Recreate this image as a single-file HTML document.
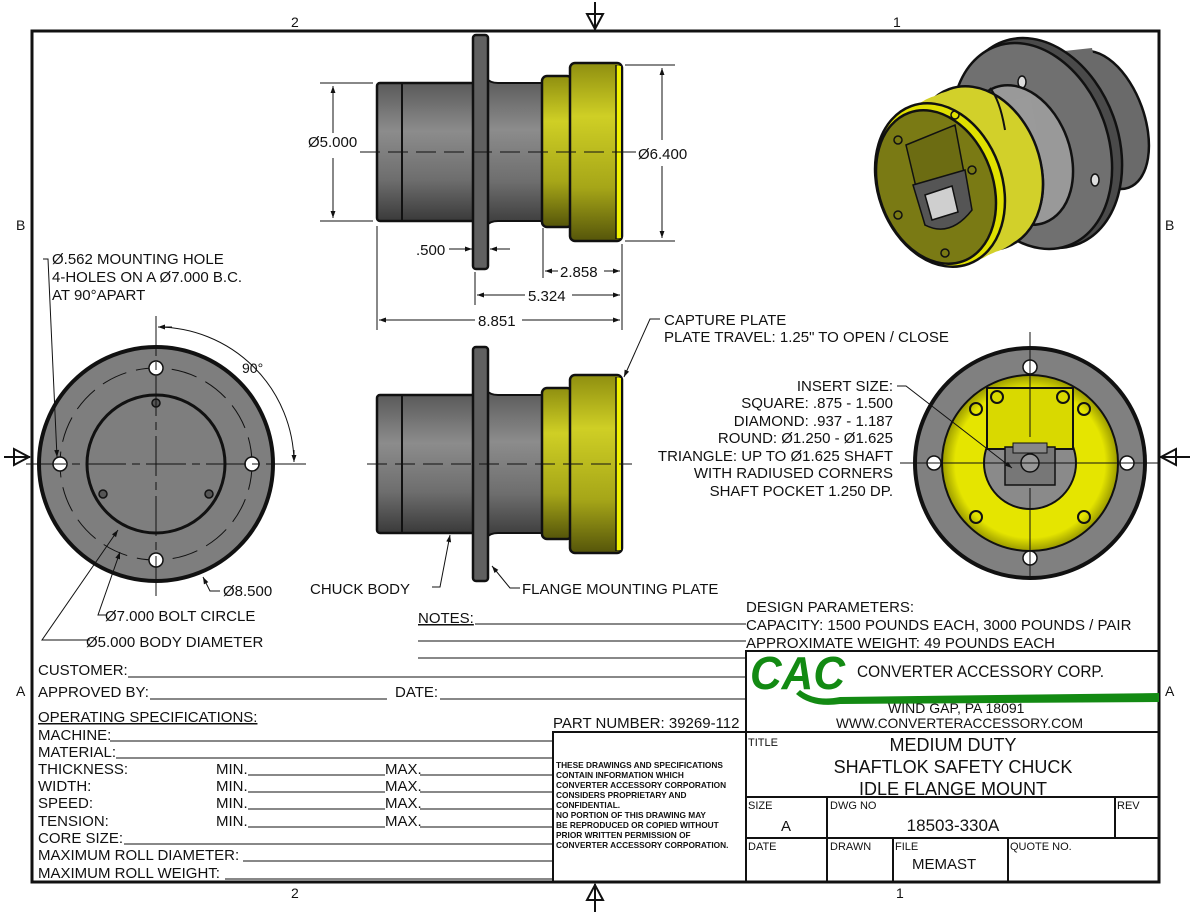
<!DOCTYPE html>
<html><head><meta charset="utf-8"><style>
html,body{margin:0;padding:0;background:#fff;}
svg{display:block;}
text{font-family:"Liberation Sans",Arial,sans-serif;fill:#111;}
</style></head><body>
<svg width="1200" height="924" viewBox="0 0 1200 924" xmlns="http://www.w3.org/2000/svg">
<defs>
<linearGradient id="gb" x1="0" y1="0" x2="0" y2="1">
<stop offset="0" stop-color="#5a5a5a"/><stop offset="0.35" stop-color="#8c8c8c"/><stop offset="0.7" stop-color="#6e6e6e"/><stop offset="1" stop-color="#3a3a3a"/></linearGradient>
<linearGradient id="gy" x1="0" y1="0" x2="0" y2="1">
<stop offset="0" stop-color="#8f8f10"/><stop offset="0.3" stop-color="#cfcf25"/><stop offset="0.7" stop-color="#a6a618"/><stop offset="1" stop-color="#55550a"/></linearGradient>
<radialGradient id="ry" cx="0.5" cy="0.5" r="0.5"><stop offset="0.85" stop-color="#e5e500"/><stop offset="1" stop-color="#9a9a00"/></radialGradient>
<g id="side">
<rect x="377" y="83" width="100" height="138" rx="3" fill="url(#gb)" stroke="#111" stroke-width="2.5"/>
<line x1="402" y1="83" x2="402" y2="221" stroke="#111" stroke-width="2"/>
<path d="M486 78 Q490 83 498 83 L543 83 L543 221 L498 221 Q490 221 486 226 Z" fill="url(#gb)" stroke="#111" stroke-width="2"/>
<rect x="473" y="35" width="15" height="234" rx="3" fill="#606060" stroke="#111" stroke-width="2.5"/>
<rect x="542" y="76" width="30" height="151" rx="5" fill="url(#gy)" stroke="#111" stroke-width="2.5"/>
<rect x="570" y="63" width="52" height="178" rx="5" fill="url(#gy)" stroke="#111" stroke-width="2.5"/>
<rect x="616" y="66" width="5" height="172" fill="#f0f000"/>
<line x1="616" y1="65" x2="616" y2="239" stroke="#111" stroke-width="1.5"/>
</g>
<marker id="ar" viewBox="0 0 10 10" refX="10" refY="5" markerWidth="10" markerHeight="7" orient="auto-start-reverse" markerUnits="userSpaceOnUse"><path d="M0 1.5 L10 5 L0 8.5 Z" fill="#111"/></marker>
</defs>

<!-- border -->
<rect x="32" y="31" width="1127" height="851" fill="none" stroke="#111" stroke-width="3"/>
<text x="291" y="27" font-size="14">2</text>
<text x="893" y="27" font-size="14">1</text>
<text x="291" y="898" font-size="14">2</text>
<text x="896" y="898" font-size="14">1</text>
<text x="16" y="230" font-size="14">B</text>
<text x="1165" y="230" font-size="14">B</text>
<text x="16" y="696" font-size="14">A</text>
<text x="1165" y="696" font-size="14">A</text>
<g stroke="#111" stroke-width="2" fill="none">
<line x1="595" y1="2" x2="595" y2="30"/><path d="M587 14 L603 14 L595 29 Z"/>
<line x1="595" y1="884" x2="595" y2="912"/><path d="M587 900 L603 900 L595 885 Z"/>
<line x1="4" y1="457" x2="30" y2="457"/><path d="M14 449 L14 465 L29 457 Z"/>
<line x1="1160" y1="457" x2="1190" y2="457"/><path d="M1176 449 L1176 465 L1161 457 Z"/>
</g>

<!-- top side view -->
<use href="#side"/>
<line x1="360" y1="152" x2="660" y2="152" stroke="#111" stroke-width="1" stroke-dasharray="20,8"/>
<g stroke="#111" stroke-width="1" fill="none">
<line x1="320" y1="83" x2="373" y2="83"/><line x1="320" y1="221" x2="373" y2="221"/>
<line x1="333" y1="86" x2="333" y2="133" marker-start="url(#ar)"/><line x1="333" y1="158" x2="333" y2="218" marker-end="url(#ar)"/>
<line x1="625" y1="65" x2="675" y2="65"/><line x1="625" y1="241" x2="675" y2="241"/>
<line x1="662" y1="68" x2="662" y2="140" marker-start="url(#ar)"/><line x1="662" y1="166" x2="662" y2="238" marker-end="url(#ar)"/>
<line x1="449" y1="249" x2="472" y2="249" marker-end="url(#ar)"/><line x1="510" y1="249" x2="490" y2="249" marker-end="url(#ar)"/>
<line x1="543" y1="228" x2="543" y2="278"/><line x1="622" y1="244" x2="622" y2="330"/>
<line x1="475" y1="272" x2="475" y2="305"/><line x1="377" y1="226" x2="377" y2="330"/>
<line x1="545" y1="271" x2="558" y2="271" marker-start="url(#ar)"/><line x1="604" y1="271" x2="620" y2="271" marker-end="url(#ar)"/>
<line x1="477" y1="295" x2="525" y2="295" marker-start="url(#ar)"/><line x1="572" y1="295" x2="620" y2="295" marker-end="url(#ar)"/>
<line x1="379" y1="320" x2="475" y2="320" marker-start="url(#ar)"/><line x1="522" y1="320" x2="620" y2="320" marker-end="url(#ar)"/>
</g>
<rect x="300" y="133" width="58" height="18" fill="#fff"/>
<text x="308" y="147" font-size="15">Ø5.000</text>
<rect x="636" y="144" width="54" height="18" fill="#fff"/>
<line x1="622" y1="152" x2="636" y2="152" stroke="#111" stroke-width="1"/>
<text x="638" y="159" font-size="15">Ø6.400</text>
<text x="416" y="255" font-size="15">.500</text>
<text x="560" y="277" font-size="15">2.858</text>
<text x="528" y="301" font-size="15">5.324</text>
<text x="478" y="326" font-size="15">8.851</text>

<!-- bottom side view -->
<use href="#side" transform="translate(0,312)"/>
<line x1="367" y1="464" x2="632" y2="464" stroke="#111" stroke-width="1" stroke-dasharray="20,8"/>
<g stroke="#111" stroke-width="1" fill="none">
<path d="M432 587 L440 587 L450 535" marker-end="url(#ar)"/>
<path d="M520 588 L510 588 L492 566" marker-end="url(#ar)"/>
<path d="M660 319 L650 319 L624 377" marker-end="url(#ar)"/>
</g>
<text x="310" y="594" font-size="15">CHUCK BODY</text>
<text x="522" y="594" font-size="15">FLANGE MOUNTING PLATE</text>
<text x="664" y="325" font-size="15">CAPTURE PLATE</text>
<text x="664" y="342" font-size="15">PLATE TRAVEL: 1.25" TO OPEN / CLOSE</text>

<!-- left front view -->
<circle cx="156" cy="464" r="117" fill="#7e7e7e" stroke="#111" stroke-width="4"/>
<circle cx="156" cy="464" r="96" fill="none" stroke="#111" stroke-width="1" stroke-dasharray="26,10"/>
<circle cx="156" cy="464" r="69" fill="#7e7e7e" stroke="#111" stroke-width="3"/>
<g fill="#fff" stroke="#111" stroke-width="1.5">
<circle cx="156" cy="368" r="7"/><circle cx="60" cy="464" r="7"/><circle cx="252" cy="464" r="7"/><circle cx="156" cy="560" r="7"/></g>
<g fill="#555" stroke="#111" stroke-width="1.5">
<circle cx="156" cy="403" r="4"/><circle cx="103" cy="494" r="4"/><circle cx="209" cy="494" r="4"/></g>
<g stroke="#111" stroke-width="1" fill="none">
<line x1="156" y1="316" x2="156" y2="596" stroke-dasharray="40,6,8,6"/>
<line x1="26" y1="464" x2="310" y2="464" stroke-dasharray="40,6,8,6"/>
<path d="M158 327 A137 137 0 0 1 294 462" />
<line x1="158" y1="327" x2="172" y2="327" marker-start="url(#ar)"/>
<line x1="294" y1="450" x2="294" y2="462" marker-end="url(#ar)"/>
<path d="M43 259 L48 259 L57 457" marker-end="url(#ar)"/>
<path d="M220 591 L210 591 L203 577" marker-end="url(#ar)"/>
<path d="M106 615 L98 615 L120 552" marker-end="url(#ar)"/>
<path d="M90 640 L42 640 L118 530" marker-end="url(#ar)"/>
</g>
<text x="52" y="264" font-size="15">Ø.562 MOUNTING HOLE</text>
<text x="52" y="282" font-size="15">4-HOLES ON A Ø7.000 B.C.</text>
<text x="52" y="300" font-size="15">AT 90°APART</text>
<text x="242" y="373" font-size="14">90°</text>
<text x="223" y="596" font-size="15">Ø8.500</text>
<text x="105" y="621" font-size="15">Ø7.000 BOLT CIRCLE</text>
<text x="86" y="647" font-size="15">Ø5.000 BODY DIAMETER</text>

<!-- right front view -->
<circle cx="1030" cy="463" r="115" fill="#808080" stroke="#111" stroke-width="4"/>
<circle cx="1030" cy="463" r="88" fill="url(#ry)" stroke="#111" stroke-width="2"/>
<circle cx="1030" cy="463" r="46" fill="#8a8a8a" stroke="#111" stroke-width="2"/>
<path d="M987 388 L1073 388 L1073 449 L987 449 Z" fill="#d9d900" stroke="#111" stroke-width="2"/>
<rect x="1005" y="447" width="50" height="38" fill="#777" stroke="#111" stroke-width="1.5"/>
<rect x="1013" y="443" width="34" height="10" fill="#888" stroke="#111" stroke-width="1"/>
<circle cx="1030" cy="463" r="9" fill="#999" stroke="#111" stroke-width="1.5"/>
<g fill="#fff" stroke="#111" stroke-width="1.5">
<circle cx="1030" cy="367" r="7"/><circle cx="934" cy="463" r="7"/><circle cx="1127" cy="463" r="7"/><circle cx="1030" cy="558" r="7"/></g>
<g fill="none" stroke="#111" stroke-width="2">
<circle cx="997" cy="397" r="6"/><circle cx="1063" cy="397" r="6"/>
<circle cx="976" cy="409" r="6"/><circle cx="1084" cy="409" r="6"/>
<circle cx="976" cy="517" r="6"/><circle cx="1084" cy="517" r="6"/></g>
<g stroke="#111" stroke-width="1" fill="none">
<line x1="1030" y1="332" x2="1030" y2="437"/><line x1="1030" y1="488" x2="1030" y2="580"/>
<line x1="900" y1="463" x2="1158" y2="463"/>
<path d="M897 386 L906 386 L1012 468" marker-end="url(#ar)"/>
</g>
<g font-size="15" text-anchor="end">
<text x="893" y="391">INSERT SIZE:</text>
<text x="893" y="408">SQUARE: .875 - 1.500</text>
<text x="893" y="426">DIAMOND: .937 - 1.187</text>
<text x="893" y="443">ROUND: Ø1.250 - Ø1.625</text>
<text x="893" y="461">TRIANGLE: UP TO Ø1.625 SHAFT</text>
<text x="893" y="478">WITH RADIUSED CORNERS</text>
<text x="893" y="496">SHAFT POCKET 1.250 DP.</text>
</g>

<!-- 3D view -->
<g stroke="#111" stroke-width="2.5">
<ellipse cx="1104" cy="120" rx="40" ry="72" transform="rotate(-20 1104 120)" fill="#6a6a6a"/>
<path d="M1055 52 L1092 48 L1118 188 L1080 198 Z" fill="#6a6a6a" stroke="none"/>
<ellipse cx="1070" cy="130" rx="40" ry="72" transform="rotate(-20 1070 130)" fill="#6a6a6a"/>
<ellipse cx="1040" cy="143" rx="78" ry="108" transform="rotate(-20 1040 143)" fill="#4a4a4a"/>
<ellipse cx="1032" cy="146" rx="76" ry="106" transform="rotate(-20 1032 146)" fill="#707070"/>
<ellipse cx="1022" cy="82" rx="4" ry="6" fill="#ddd" stroke-width="1.5"/>
<ellipse cx="1095" cy="180" rx="4" ry="6" fill="#ddd" stroke-width="1.5"/>
<ellipse cx="1020" cy="155" rx="50" ry="72" transform="rotate(-20 1020 155)" fill="#999"/>
<path d="M985 110 L1030 95 L1050 200 L1000 220 Z" fill="#9a9a9a" stroke="none"/>
<ellipse cx="990" cy="168" rx="50" ry="72" transform="rotate(-20 990 168)" fill="#9a9a9a"/>
<ellipse cx="978" cy="168" rx="62" ry="84" transform="rotate(-20 978 168)" fill="#d2d02a"/>
<ellipse cx="970" cy="172" rx="62" ry="84" transform="rotate(-20 970 172)" fill="#d2d02a" stroke="none"/>
<ellipse cx="960" cy="176" rx="62" ry="84" transform="rotate(-20 960 176)" fill="#d2d02a" stroke="none"/>
<ellipse cx="950" cy="181" rx="62" ry="84" transform="rotate(-20 950 181)" fill="#d2d02a" stroke="none"/>
<path d="M990 88 Q1000 100 1005 130" fill="none" stroke-width="2"/>
<ellipse cx="940" cy="185" rx="62" ry="84" transform="rotate(-20 940 185)" fill="#e0e000"/>
<ellipse cx="936" cy="187" rx="57" ry="79" transform="rotate(-20 936 187)" fill="#7a7a14"/>
<path d="M906 145 L955 125 L970 205 Q950 235 925 225 Z" fill="#6c6c12" stroke-width="1.5"/>
<path d="M913 185 L965 170 L972 210 Q950 238 925 225 Z" fill="#555" stroke-width="1.5"/>
<path d="M925 195 L952 186 L958 212 L932 220 Z" fill="#cfcfcf" stroke-width="1.5"/>
<g fill="none" stroke-width="1.5"><circle cx="898" cy="140" r="4"/><circle cx="955" cy="115" r="4"/><circle cx="972" cy="170" r="4"/><circle cx="898" cy="215" r="4"/><circle cx="945" cy="253" r="4"/></g>
</g>

<!-- notes -->
<text x="418" y="623" font-size="15" text-decoration="underline">NOTES:</text>
<g stroke="#111" stroke-width="1">
<line x1="475" y1="624" x2="746" y2="624"/>
<line x1="418" y1="641" x2="746" y2="641"/>
<line x1="418" y1="658" x2="746" y2="658"/>
</g>
<text x="746" y="612" font-size="15">DESIGN PARAMETERS:</text>
<text x="746" y="630" font-size="15">CAPACITY: 1500 POUNDS EACH, 3000 POUNDS / PAIR</text>
<text x="746" y="648" font-size="15">APPROXIMATE WEIGHT: 49 POUNDS EACH</text>

<!-- form -->
<g font-size="15">
<text x="38" y="675">CUSTOMER:</text>
<text x="38" y="697">APPROVED BY:</text>
<text x="395" y="697">DATE:</text>
<text x="38" y="722" text-decoration="underline">OPERATING SPECIFICATIONS:</text>
<text x="38" y="740">MACHINE:</text>
<text x="38" y="757">MATERIAL:</text>
<text x="38" y="774">THICKNESS:</text><text x="216" y="774">MIN.</text><text x="385" y="774">MAX.</text>
<text x="38" y="791">WIDTH:</text><text x="216" y="791">MIN.</text><text x="385" y="791">MAX.</text>
<text x="38" y="808">SPEED:</text><text x="216" y="808">MIN.</text><text x="385" y="808">MAX.</text>
<text x="38" y="826">TENSION:</text><text x="216" y="826">MIN.</text><text x="385" y="826">MAX.</text>
<text x="38" y="843">CORE SIZE:</text>
<text x="38" y="860">MAXIMUM ROLL DIAMETER:</text>
<text x="38" y="878">MAXIMUM ROLL WEIGHT:</text>
<text x="553" y="728">PART NUMBER: 39269-112</text>
</g>
<g stroke="#111" stroke-width="1">
<line x1="128" y1="677" x2="746" y2="677"/>
<line x1="150" y1="699" x2="387" y2="699"/><line x1="440" y1="699" x2="746" y2="699"/>
<line x1="110" y1="741" x2="553" y2="741"/>
<line x1="116" y1="758" x2="553" y2="758"/>
<line x1="248" y1="775" x2="385" y2="775"/><line x1="420" y1="775" x2="553" y2="775"/>
<line x1="248" y1="792" x2="385" y2="792"/><line x1="420" y1="792" x2="553" y2="792"/>
<line x1="248" y1="809" x2="385" y2="809"/><line x1="420" y1="809" x2="553" y2="809"/>
<line x1="248" y1="827" x2="385" y2="827"/><line x1="420" y1="827" x2="553" y2="827"/>
<line x1="124" y1="844" x2="553" y2="844"/>
<line x1="243" y1="861" x2="553" y2="861"/>
<line x1="225" y1="879" x2="553" y2="879"/>
</g>

<!-- disclaimer -->
<rect x="553" y="732" width="193" height="150" fill="none" stroke="#111" stroke-width="2"/>
<g font-size="8.3" font-weight="bold">
<text x="556" y="768">THESE DRAWINGS AND SPECIFICATIONS</text>
<text x="556" y="778">CONTAIN INFORMATION WHICH</text>
<text x="556" y="788">CONVERTER ACCESSORY CORPORATION</text>
<text x="556" y="798">CONSIDERS PROPRIETARY AND</text>
<text x="556" y="808">CONFIDENTIAL.</text>
<text x="556" y="818">NO PORTION OF THIS DRAWING MAY</text>
<text x="556" y="828">BE REPRODUCED OR COPIED WITHOUT</text>
<text x="556" y="838">PRIOR WRITTEN PERMISSION OF</text>
<text x="556" y="848">CONVERTER ACCESSORY CORPORATION.</text>
</g>

<!-- title block -->
<g stroke="#111" stroke-width="2" fill="none">
<rect x="746" y="651" width="413" height="231"/>
<line x1="746" y1="732" x2="1159" y2="732"/>
<line x1="746" y1="797" x2="1159" y2="797"/>
<line x1="746" y1="838" x2="1159" y2="838"/>
<line x1="827" y1="797" x2="827" y2="882"/>
<line x1="1115" y1="797" x2="1115" y2="838"/>
<line x1="893" y1="838" x2="893" y2="882"/>
<line x1="1008" y1="838" x2="1008" y2="882"/>
</g>
<path d="M800 690 Q815 702 840 697 L1159 693 L1159 702 L840 704 Q812 708 796 694 Z" fill="#138a13"/>
<text x="750" y="689" font-size="46" font-weight="bold" font-style="italic" style="fill:#138a13" textLength="95" lengthAdjust="spacingAndGlyphs">CAC</text>
<text x="857" y="677" font-size="17" textLength="247" lengthAdjust="spacingAndGlyphs">CONVERTER ACCESSORY CORP.</text>
<text x="888" y="713" font-size="14">WIND GAP, PA 18091</text>
<text x="836" y="728" font-size="14" textLength="247" lengthAdjust="spacingAndGlyphs">WWW.CONVERTERACCESSORY.COM</text>
<text x="748" y="746" font-size="11">TITLE</text>
<g font-size="18" text-anchor="middle">
<text x="953" y="751">MEDIUM DUTY</text>
<text x="953" y="773">SHAFTLOK SAFETY CHUCK</text>
<text x="953" y="795">IDLE FLANGE MOUNT</text>
</g>
<text x="748" y="809" font-size="11">SIZE</text>
<text x="781" y="831" font-size="15">A</text>
<text x="830" y="809" font-size="11">DWG NO</text>
<text x="953" y="831" font-size="17" text-anchor="middle">18503-330A</text>
<text x="1117" y="809" font-size="11">REV</text>
<text x="748" y="850" font-size="11">DATE</text>
<text x="830" y="850" font-size="11">DRAWN</text>
<text x="895" y="850" font-size="11">FILE</text>
<text x="912" y="869" font-size="15">MEMAST</text>
<text x="1010" y="850" font-size="11">QUOTE NO.</text>
</svg>
</body></html>
